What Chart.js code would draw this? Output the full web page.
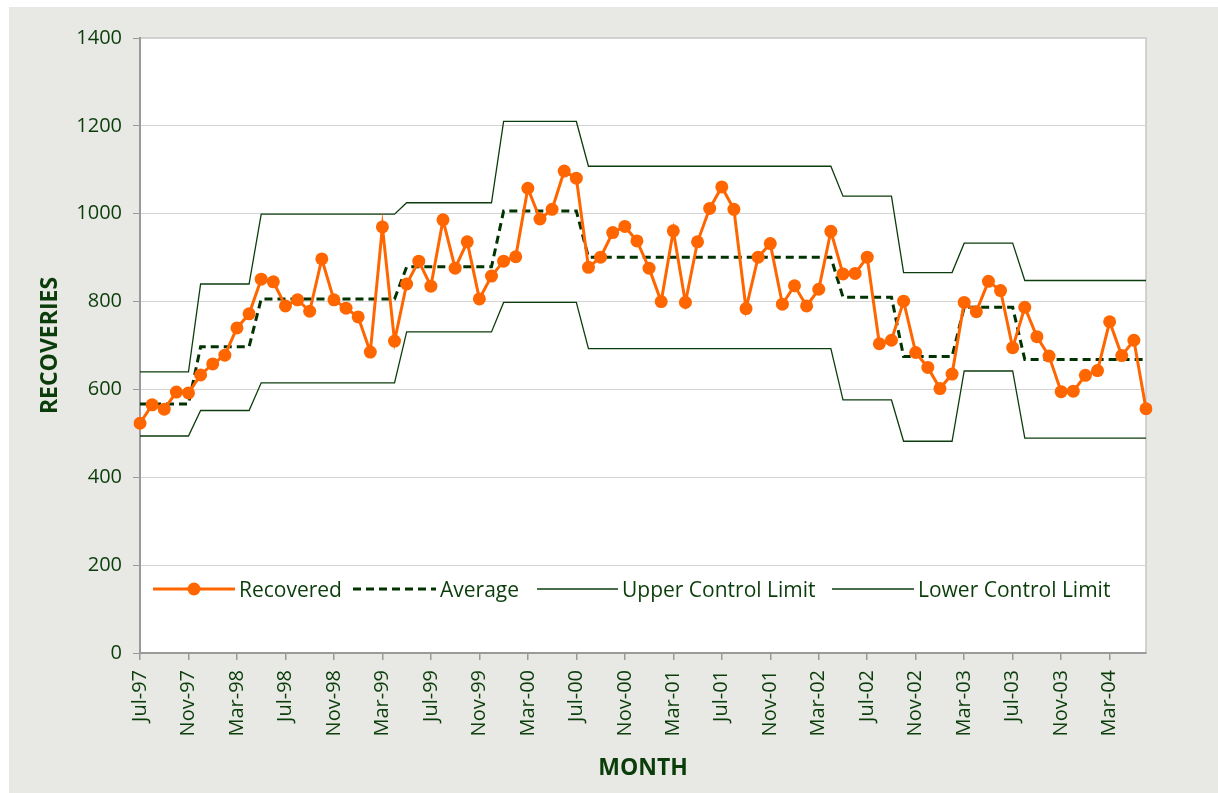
<!DOCTYPE html>
<html>
<head>
<meta charset="utf-8">
<script src="https://cdn.jsdelivr.net/npm/chart.js@4"></script>
<style>
  html, body { margin: 0; padding: 0; background: #ffffff; }
  body { width: 1218px; height: 793px; position: relative; overflow: hidden; font-family: "Open Sans", sans-serif; }
  #panel { position: absolute; left: 9px; top: 7px; width: 1209px; height: 786px; background: #e8e9e4; }
  #chart { position: absolute; left: 0; top: 0; }
  .leg { position: absolute; top: 575px; height: 28px; display: flex; align-items: center; color: #0b3d0b; font-size: 21px; white-space: nowrap; }
  .leg svg { margin-right: 4px; }
</style>
</head>
<body>
<div id="panel">
  <canvas id="chart" width="1209" height="786"></canvas>
</div>

<div class="leg" style="left:153px">
  <svg width="82" height="16"><line x1="0" y1="8" x2="82" y2="8" stroke="#ff6600" stroke-width="3"/><circle cx="41" cy="8" r="6.5" fill="#ff6600"/></svg>Recovered
</div>
<div class="leg" style="left:353px">
  <svg width="83" height="16"><line x1="0" y1="8" x2="83" y2="8" stroke="#003300" stroke-width="3" stroke-dasharray="8 5"/></svg>Average
</div>
<div class="leg" style="left:537px">
  <svg width="81" height="16"><line x1="0" y1="8" x2="81" y2="8" stroke="#0d3d0d" stroke-width="1.3"/></svg>Upper Control Limit
</div>
<div class="leg" style="left:832px">
  <svg width="82" height="16"><line x1="0" y1="8" x2="82" y2="8" stroke="#0d3d0d" stroke-width="1.3"/></svg>Lower Control Limit
</div>

<script>
/* MESES (eje X) */
const meses = [
  'Jul-97', 'Aug-97', 'Sep-97', 'Oct-97', 'Nov-97', 'Dec-97',
  'Jan-98', 'Feb-98', 'Mar-98', 'Apr-98', 'May-98', 'Jun-98', 'Jul-98', 'Aug-98', 'Sep-98', 'Oct-98', 'Nov-98', 'Dec-98',
  'Jan-99', 'Feb-99', 'Mar-99', 'Apr-99', 'May-99', 'Jun-99', 'Jul-99', 'Aug-99', 'Sep-99', 'Oct-99', 'Nov-99', 'Dec-99',
  'Jan-00', 'Feb-00', 'Mar-00', 'Apr-00', 'May-00', 'Jun-00', 'Jul-00', 'Aug-00', 'Sep-00', 'Oct-00', 'Nov-00', 'Dec-00',
  'Jan-01', 'Feb-01', 'Mar-01', 'Apr-01', 'May-01', 'Jun-01', 'Jul-01', 'Aug-01', 'Sep-01', 'Oct-01', 'Nov-01', 'Dec-01',
  'Jan-02', 'Feb-02', 'Mar-02', 'Apr-02', 'May-02', 'Jun-02', 'Jul-02', 'Aug-02', 'Sep-02', 'Oct-02', 'Nov-02', 'Dec-02',
  'Jan-03', 'Feb-03', 'Mar-03', 'Apr-03', 'May-03', 'Jun-03', 'Jul-03', 'Aug-03', 'Sep-03', 'Oct-03', 'Nov-03', 'Dec-03',
  'Jan-04', 'Feb-04', 'Mar-04', 'Apr-04', 'May-04', 'Jun-04',
];

/* SERIES */
const recovered = [
  523, 565, 555, 594, 592, 633, 658, 678, 740, 772, 851, 845,
  790, 804, 778, 897, 804, 785, 765, 685, 970, 710, 840, 892,
  835, 986, 876, 936, 806, 858, 892, 902, 1058, 988, 1010, 1097,
  1081, 878, 901, 957, 971, 938, 876, 800, 961, 798, 936, 1012,
  1061, 1010, 784, 901, 932, 794, 836, 790, 828, 960, 863, 864,
  901, 704, 712, 801, 684, 650, 602, 635, 798, 777, 846, 825,
  695, 787, 720, 676, 595, 596, 632, 643, 754, 677, 712, 556,
];

const average = [
  567, 567, 567, 567, 567, 697, 697, 697, 697, 697, 806, 806,
  806, 806, 806, 806, 806, 806, 806, 806, 806, 806, 879, 879,
  879, 879, 879, 879, 879, 879, 1006, 1006, 1006, 1006, 1006, 1006,
  1006, 901, 901, 901, 901, 901, 901, 901, 901, 901, 901, 901,
  901, 901, 901, 901, 901, 901, 901, 901, 901, 901, 810, 810,
  810, 810, 810, 675, 675, 675, 675, 675, 787, 787, 787, 787,
  787, 668, 668, 668, 668, 668, 668, 668, 668, 668, 668, 668,
];

const upperLimit = [
  640, 640, 640, 640, 640, 840, 840, 840, 840, 840, 999, 999,
  999, 999, 999, 999, 999, 999, 999, 999, 999, 999, 1025, 1025,
  1025, 1025, 1025, 1025, 1025, 1025, 1210, 1210, 1210, 1210, 1210, 1210,
  1210, 1108, 1108, 1108, 1108, 1108, 1108, 1108, 1108, 1108, 1108, 1108,
  1108, 1108, 1108, 1108, 1108, 1108, 1108, 1108, 1108, 1108, 1040, 1040,
  1040, 1040, 1040, 866, 866, 866, 866, 866, 933, 933, 933, 933,
  933, 848, 848, 848, 848, 848, 848, 848, 848, 848, 848, 848,
];

const lowerLimit = [
  494, 494, 494, 494, 494, 552, 552, 552, 552, 552, 615, 615,
  615, 615, 615, 615, 615, 615, 615, 615, 615, 615, 731, 731,
  731, 731, 731, 731, 731, 731, 798, 798, 798, 798, 798, 798,
  798, 693, 693, 693, 693, 693, 693, 693, 693, 693, 693, 693,
  693, 693, 693, 693, 693, 693, 693, 693, 693, 693, 576, 576,
  576, 576, 576, 482, 482, 482, 482, 482, 642, 642, 642, 642,
  642, 489, 489, 489, 489, 489, 489, 489, 489, 489, 489, 489,
];

/* ESTILO */
const verde = '#0b3d0b';
const fuente = '"Open Sans", sans-serif';

/* Fondo blanco del área de trazado con borde superior y derecho */
const fondoArea = {
  id: 'fondoArea',
  beforeDraw(chart) {
    const { ctx, chartArea: a } = chart;
    ctx.save();
    ctx.fillStyle = '#ffffff';
    ctx.fillRect(a.left, a.top, a.right - a.left, a.bottom - a.top);
    ctx.strokeStyle = '#c6c6c6';
    ctx.lineWidth = 1.5;
    ctx.beginPath();
    ctx.moveTo(a.left, a.top);
    ctx.lineTo(a.right, a.top);
    ctx.lineTo(a.right, a.bottom);
    ctx.stroke();
    ctx.restore();
  },
};

new Chart(document.getElementById('chart'), {
  type: 'line',
  data: {
    labels: meses,
    datasets: [
      {
        label: 'Recovered',
        data: recovered,
        borderColor: '#ff6600',
        backgroundColor: '#ff6600',
        borderWidth: 3,
        pointRadius: 6.5,
        pointBorderWidth: 0,
        pointBackgroundColor: '#ff6600',
        tension: 0,
      },
      {
        label: 'Average',
        data: average,
        borderColor: '#003300',
        borderWidth: 3,
        borderDash: [8, 5],
        pointRadius: 0,
        tension: 0,
      },
      {
        label: 'Upper Control Limit',
        data: upperLimit,
        borderColor: '#0d3d0d',
        borderWidth: 1.3,
        pointRadius: 0,
        tension: 0,
      },
      {
        label: 'Lower Control Limit',
        data: lowerLimit,
        borderColor: '#0d3d0d',
        borderWidth: 1.3,
        pointRadius: 0,
        tension: 0,
      },
    ],
  },
  options: {
    responsive: false,
    animation: false,
    layout: { padding: { left: 0, right: 72, top: 31, bottom: 0 } },
    plugins: {
      legend: { display: false },
      tooltip: { enabled: false },
    },
    scales: {
      x: {
        offset: false,
        afterFit: s => { s.height = 140; },
        grid: { drawOnChartArea: false, tickLength: 7, color: '#9a9a9a', lineWidth: 1.5 },
        border: { color: '#9a9a9a', width: 2 },
        ticks: {
          autoSkip: false,
          maxRotation: 90,
          minRotation: 90,
          padding: 10,
          color: verde,
          font: { family: fuente, size: 20 },
          callback: function (v, i) { return i % 4 === 0 ? this.getLabelForValue(v) : null; },
        },
        title: {
          display: true,
          text: 'MONTH',
          color: verde,
          font: { family: fuente, size: 23, weight: 'bold' },
          padding: { top: 0, bottom: 11 },
        },
      },
      y: {
        min: 0,
        max: 1400,
        afterFit: s => { s.width = 131; },
        grid: { color: '#d4d4d4', lineWidth: 1, tickLength: 7, tickColor: '#9a9a9a' },
        border: { color: '#9a9a9a', width: 2 },
        ticks: {
          stepSize: 200,
          padding: 11,
          color: verde,
          font: { family: fuente, size: 20 },
          callback: v => String(v),
        },
        title: {
          display: true,
          text: 'RECOVERIES',
          color: verde,
          font: { family: fuente, size: 23, weight: 'bold' },
          padding: { top: 28, bottom: 0 },
        },
      },
    },
  },
  plugins: [fondoArea],
});
</script>
</body>
</html>
